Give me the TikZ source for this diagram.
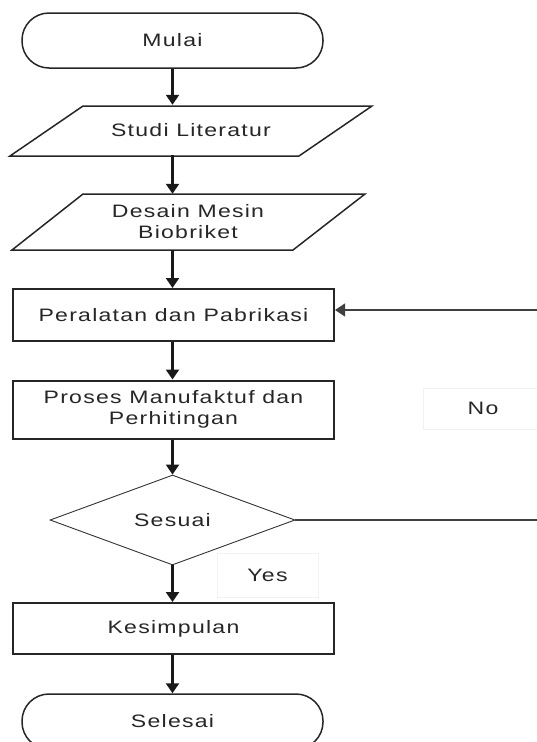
\documentclass[tikz,border=0pt]{standalone}
\usepackage{fontspec}
\setmainfont{Liberation Sans}[FakeStretch=1.28,LetterSpace=7]
\usetikzlibrary{shapes.geometric,arrows.meta,calc}
\begin{document}
\begin{tikzpicture}[x=1pt,y=-1pt,
  lbl/.style={font=\fontsize{18}{21}\selectfont, text=black!85, align=center},
  term/.style={lbl, draw=black!85, line width=1.5pt, rounded corners=27pt, minimum width=301pt, minimum height=55pt},
  proc/.style={lbl, draw=black!85, line width=2pt, minimum width=321pt},
  plain/.style={lbl, inner sep=0pt},
  parl/.style={draw=black!85, line width=1.5pt, line join=miter},
  dec/.style={lbl, draw=black!80, line width=0.9pt, shape=diamond, minimum width=245pt, minimum height=86pt, inner sep=0pt},
  faint/.style={lbl, draw=black!5, line width=0.6pt},
  tip/.style={-{Triangle[width=13pt,length=10pt]}},
  arr/.style={draw=black!90, line width=2.2pt, tip},
  fb/.style={draw=black!75, line width=1.2pt}
]
\useasboundingbox (0,0) rectangle (536,742);

\node[term] (mulai) at (172.5,40.5) {Mulai};

\draw[parl] (83,106) -- (372,106) -- (299,156) -- (10,156) -- cycle;
\node[plain, minimum width=280pt, minimum height=50pt] (studi) at (191,130) {Studi Literatur};

\draw[parl] (83,194) -- (365,194) -- (293,250) -- (12,250) -- cycle;
\node[plain, minimum width=270pt, minimum height=56pt] (desain) at (188,222) {Desain Mesin\\Biobriket};

\node[proc, minimum height=52pt] (per) at (173.5,315) {Peralatan dan Pabrikasi};
\node[proc, minimum height=58pt] (pros) at (173.5,409.5) {Proses Manufaktuf dan\\Perhitingan};
\node[dec] (ses) at (172.5,520) {Sesuai};
\node[proc, minimum height=51pt] (kes) at (173.5,628.5) {Kesimpulan};
\node[term] (sel) at (172.5,721.5) {Selesai};

\node[faint, minimum width=120pt, minimum height=41pt] (no) at (483,408.5) {No};
\node[faint, minimum width=101pt, minimum height=44pt] (yes) at (267.5,575) {Yes};

\coordinate (r1) at (545,520);
\coordinate (r2) at (545,310);

\draw[arr] (mulai.south) -- (mulai.south |- studi.north);
\draw[arr] (studi.south -| mulai.south) -- (desain.north -| mulai.south);
\draw[arr] (desain.south -| mulai.south) -- (per.north -| mulai.south);
\draw[arr] (per.south -| mulai.south) -- (pros.north -| mulai.south);
\draw[arr] (pros.south -| mulai.south) -- (ses.north);
\draw[arr] (ses.south) -- (kes.north -| ses.south);
\draw[arr] (kes.south -| ses.south) -- (sel.north);

\draw[fb] (ses.east) -- (r1) -- (r2);
\draw[fb, tip] (r2) -- (r2 -| per.east);
\end{tikzpicture}
\end{document}
